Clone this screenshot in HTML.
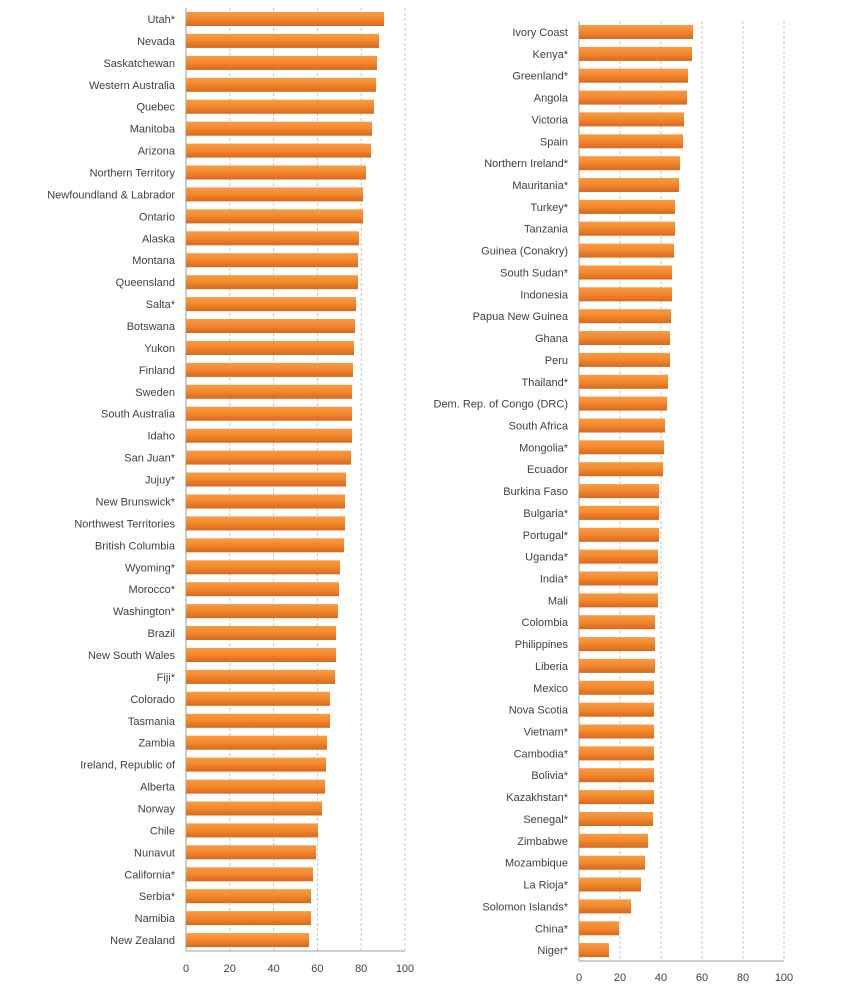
<!DOCTYPE html>
<html><head><meta charset="utf-8"><style>
html,body{margin:0;padding:0;background:#fff}
svg{display:block;font-family:"Liberation Sans",sans-serif;font-size:11px}
svg text{fill:#404040}
text.l{text-anchor:end}
text.t{text-anchor:middle}
</style></head><body>
<svg width="850" height="986" viewBox="0 0 850 986" xmlns="http://www.w3.org/2000/svg">
<defs>
<linearGradient id="g" x1="0" y1="0" x2="0" y2="1">
<stop offset="0" stop-color="#f89a45"/><stop offset="0.45" stop-color="#f48a2e"/><stop offset="1" stop-color="#d8681c"/>
</linearGradient>
</defs>
<g stroke="#c8c8c8" stroke-dasharray="3,2" stroke-width="1">
<line x1="229.8" y1="8" x2="229.8" y2="951"/><line x1="273.6" y1="8" x2="273.6" y2="951"/><line x1="317.4" y1="8" x2="317.4" y2="951"/><line x1="361.2" y1="8" x2="361.2" y2="951"/><line x1="405" y1="8" x2="405" y2="951"/>
<line x1="620" y1="21" x2="620" y2="961"/><line x1="661" y1="21" x2="661" y2="961"/><line x1="702" y1="21" x2="702" y2="961"/><line x1="743" y1="21" x2="743" y2="961"/><line x1="784" y1="21" x2="784" y2="961"/>
</g>
<g stroke="#bfbfbf" stroke-width="1.5">
<line x1="186" y1="8" x2="186" y2="951"/><line x1="186" y1="951" x2="405" y2="951"/>
<line x1="579" y1="21" x2="579" y2="961"/><line x1="579" y1="961" x2="784" y2="961"/>
</g>
<g fill="url(#g)">
<g transform="translate(0,19)"><text class="l" x="175" y="4">Utah*</text><rect x="186" y="-7" width="198" height="14"/></g>
<g transform="translate(0,40.9)"><text class="l" x="175" y="4">Nevada</text><rect x="186" y="-7" width="193" height="14"/></g>
<g transform="translate(0,62.9)"><text class="l" x="175" y="4">Saskatchewan</text><rect x="186" y="-7" width="191" height="14"/></g>
<g transform="translate(0,84.8)"><text class="l" x="175" y="4">Western Australia</text><rect x="186" y="-7" width="190" height="14"/></g>
<g transform="translate(0,106.7)"><text class="l" x="175" y="4">Quebec</text><rect x="186" y="-7" width="188" height="14"/></g>
<g transform="translate(0,128.7)"><text class="l" x="175" y="4">Manitoba</text><rect x="186" y="-7" width="186" height="14"/></g>
<g transform="translate(0,150.6)"><text class="l" x="175" y="4">Arizona</text><rect x="186" y="-7" width="185" height="14"/></g>
<g transform="translate(0,172.5)"><text class="l" x="175" y="4">Northern Territory</text><rect x="186" y="-7" width="180" height="14"/></g>
<g transform="translate(0,194.4)"><text class="l" x="175" y="4">Newfoundland &amp; Labrador</text><rect x="186" y="-7" width="177" height="14"/></g>
<g transform="translate(0,216.4)"><text class="l" x="175" y="4">Ontario</text><rect x="186" y="-7" width="177" height="14"/></g>
<g transform="translate(0,238.3)"><text class="l" x="175" y="4">Alaska</text><rect x="186" y="-7" width="173" height="14"/></g>
<g transform="translate(0,260.2)"><text class="l" x="175" y="4">Montana</text><rect x="186" y="-7" width="172" height="14"/></g>
<g transform="translate(0,282.2)"><text class="l" x="175" y="4">Queensland</text><rect x="186" y="-7" width="172" height="14"/></g>
<g transform="translate(0,304.1)"><text class="l" x="175" y="4">Salta*</text><rect x="186" y="-7" width="170" height="14"/></g>
<g transform="translate(0,326)"><text class="l" x="175" y="4">Botswana</text><rect x="186" y="-7" width="169" height="14"/></g>
<g transform="translate(0,348)"><text class="l" x="175" y="4">Yukon</text><rect x="186" y="-7" width="168" height="14"/></g>
<g transform="translate(0,369.9)"><text class="l" x="175" y="4">Finland</text><rect x="186" y="-7" width="167" height="14"/></g>
<g transform="translate(0,391.8)"><text class="l" x="175" y="4">Sweden</text><rect x="186" y="-7" width="166" height="14"/></g>
<g transform="translate(0,413.7)"><text class="l" x="175" y="4">South Australia</text><rect x="186" y="-7" width="166" height="14"/></g>
<g transform="translate(0,435.7)"><text class="l" x="175" y="4">Idaho</text><rect x="186" y="-7" width="166" height="14"/></g>
<g transform="translate(0,457.6)"><text class="l" x="175" y="4">San Juan*</text><rect x="186" y="-7" width="165" height="14"/></g>
<g transform="translate(0,479.5)"><text class="l" x="175" y="4">Jujuy*</text><rect x="186" y="-7" width="160" height="14"/></g>
<g transform="translate(0,501.5)"><text class="l" x="175" y="4">New Brunswick*</text><rect x="186" y="-7" width="159" height="14"/></g>
<g transform="translate(0,523.4)"><text class="l" x="175" y="4">Northwest Territories</text><rect x="186" y="-7" width="159" height="14"/></g>
<g transform="translate(0,545.3)"><text class="l" x="175" y="4">British Columbia</text><rect x="186" y="-7" width="158" height="14"/></g>
<g transform="translate(0,567.3)"><text class="l" x="175" y="4">Wyoming*</text><rect x="186" y="-7" width="154" height="14"/></g>
<g transform="translate(0,589.2)"><text class="l" x="175" y="4">Morocco*</text><rect x="186" y="-7" width="153" height="14"/></g>
<g transform="translate(0,611.1)"><text class="l" x="175" y="4">Washington*</text><rect x="186" y="-7" width="152" height="14"/></g>
<g transform="translate(0,633)"><text class="l" x="175" y="4">Brazil</text><rect x="186" y="-7" width="150" height="14"/></g>
<g transform="translate(0,655)"><text class="l" x="175" y="4">New South Wales</text><rect x="186" y="-7" width="150" height="14"/></g>
<g transform="translate(0,676.9)"><text class="l" x="175" y="4">Fiji*</text><rect x="186" y="-7" width="149" height="14"/></g>
<g transform="translate(0,698.8)"><text class="l" x="175" y="4">Colorado</text><rect x="186" y="-7" width="144" height="14"/></g>
<g transform="translate(0,720.8)"><text class="l" x="175" y="4">Tasmania</text><rect x="186" y="-7" width="144" height="14"/></g>
<g transform="translate(0,742.7)"><text class="l" x="175" y="4">Zambia</text><rect x="186" y="-7" width="141" height="14"/></g>
<g transform="translate(0,764.6)"><text class="l" x="175" y="4">Ireland, Republic of</text><rect x="186" y="-7" width="140" height="14"/></g>
<g transform="translate(0,786.6)"><text class="l" x="175" y="4">Alberta</text><rect x="186" y="-7" width="139" height="14"/></g>
<g transform="translate(0,808.5)"><text class="l" x="175" y="4">Norway</text><rect x="186" y="-7" width="136" height="14"/></g>
<g transform="translate(0,830.4)"><text class="l" x="175" y="4">Chile</text><rect x="186" y="-7" width="132" height="14"/></g>
<g transform="translate(0,852.3)"><text class="l" x="175" y="4">Nunavut</text><rect x="186" y="-7" width="130" height="14"/></g>
<g transform="translate(0,874.3)"><text class="l" x="175" y="4">California*</text><rect x="186" y="-7" width="127" height="14"/></g>
<g transform="translate(0,896.2)"><text class="l" x="175" y="4">Serbia*</text><rect x="186" y="-7" width="125" height="14"/></g>
<g transform="translate(0,918.1)"><text class="l" x="175" y="4">Namibia</text><rect x="186" y="-7" width="125" height="14"/></g>
<g transform="translate(0,940.1)"><text class="l" x="175" y="4">New Zealand</text><rect x="186" y="-7" width="123" height="14"/></g>

<g transform="translate(0,32)"><text class="l" x="568" y="4">Ivory Coast</text><rect x="579" y="-7" width="114" height="14"/></g>
<g transform="translate(0,53.9)"><text class="l" x="568" y="4">Kenya*</text><rect x="579" y="-7" width="113" height="14"/></g>
<g transform="translate(0,75.7)"><text class="l" x="568" y="4">Greenland*</text><rect x="579" y="-7" width="109" height="14"/></g>
<g transform="translate(0,97.6)"><text class="l" x="568" y="4">Angola</text><rect x="579" y="-7" width="108" height="14"/></g>
<g transform="translate(0,119.4)"><text class="l" x="568" y="4">Victoria</text><rect x="579" y="-7" width="105" height="14"/></g>
<g transform="translate(0,141.3)"><text class="l" x="568" y="4">Spain</text><rect x="579" y="-7" width="104" height="14"/></g>
<g transform="translate(0,163.2)"><text class="l" x="568" y="4">Northern Ireland*</text><rect x="579" y="-7" width="101" height="14"/></g>
<g transform="translate(0,185)"><text class="l" x="568" y="4">Mauritania*</text><rect x="579" y="-7" width="100" height="14"/></g>
<g transform="translate(0,206.9)"><text class="l" x="568" y="4">Turkey*</text><rect x="579" y="-7" width="96" height="14"/></g>
<g transform="translate(0,228.7)"><text class="l" x="568" y="4">Tanzania</text><rect x="579" y="-7" width="96" height="14"/></g>
<g transform="translate(0,250.6)"><text class="l" x="568" y="4">Guinea (Conakry)</text><rect x="579" y="-7" width="95" height="14"/></g>
<g transform="translate(0,272.5)"><text class="l" x="568" y="4">South Sudan*</text><rect x="579" y="-7" width="93" height="14"/></g>
<g transform="translate(0,294.3)"><text class="l" x="568" y="4">Indonesia</text><rect x="579" y="-7" width="93" height="14"/></g>
<g transform="translate(0,316.2)"><text class="l" x="568" y="4">Papua New Guinea</text><rect x="579" y="-7" width="92" height="14"/></g>
<g transform="translate(0,338)"><text class="l" x="568" y="4">Ghana</text><rect x="579" y="-7" width="91" height="14"/></g>
<g transform="translate(0,359.9)"><text class="l" x="568" y="4">Peru</text><rect x="579" y="-7" width="91" height="14"/></g>
<g transform="translate(0,381.8)"><text class="l" x="568" y="4">Thailand*</text><rect x="579" y="-7" width="89" height="14"/></g>
<g transform="translate(0,403.6)"><text class="l" x="568" y="4">Dem. Rep. of Congo (DRC)</text><rect x="579" y="-7" width="88" height="14"/></g>
<g transform="translate(0,425.5)"><text class="l" x="568" y="4">South Africa</text><rect x="579" y="-7" width="86" height="14"/></g>
<g transform="translate(0,447.3)"><text class="l" x="568" y="4">Mongolia*</text><rect x="579" y="-7" width="85" height="14"/></g>
<g transform="translate(0,469.2)"><text class="l" x="568" y="4">Ecuador</text><rect x="579" y="-7" width="84" height="14"/></g>
<g transform="translate(0,491.1)"><text class="l" x="568" y="4">Burkina Faso</text><rect x="579" y="-7" width="80" height="14"/></g>
<g transform="translate(0,512.9)"><text class="l" x="568" y="4">Bulgaria*</text><rect x="579" y="-7" width="80" height="14"/></g>
<g transform="translate(0,534.8)"><text class="l" x="568" y="4">Portugal*</text><rect x="579" y="-7" width="80" height="14"/></g>
<g transform="translate(0,556.6)"><text class="l" x="568" y="4">Uganda*</text><rect x="579" y="-7" width="79" height="14"/></g>
<g transform="translate(0,578.5)"><text class="l" x="568" y="4">India*</text><rect x="579" y="-7" width="79" height="14"/></g>
<g transform="translate(0,600.4)"><text class="l" x="568" y="4">Mali</text><rect x="579" y="-7" width="79" height="14"/></g>
<g transform="translate(0,622.2)"><text class="l" x="568" y="4">Colombia</text><rect x="579" y="-7" width="76" height="14"/></g>
<g transform="translate(0,644.1)"><text class="l" x="568" y="4">Philippines</text><rect x="579" y="-7" width="76" height="14"/></g>
<g transform="translate(0,665.9)"><text class="l" x="568" y="4">Liberia</text><rect x="579" y="-7" width="76" height="14"/></g>
<g transform="translate(0,687.8)"><text class="l" x="568" y="4">Mexico</text><rect x="579" y="-7" width="75" height="14"/></g>
<g transform="translate(0,709.7)"><text class="l" x="568" y="4">Nova Scotia</text><rect x="579" y="-7" width="75" height="14"/></g>
<g transform="translate(0,731.5)"><text class="l" x="568" y="4">Vietnam*</text><rect x="579" y="-7" width="75" height="14"/></g>
<g transform="translate(0,753.4)"><text class="l" x="568" y="4">Cambodia*</text><rect x="579" y="-7" width="75" height="14"/></g>
<g transform="translate(0,775.2)"><text class="l" x="568" y="4">Bolivia*</text><rect x="579" y="-7" width="75" height="14"/></g>
<g transform="translate(0,797.1)"><text class="l" x="568" y="4">Kazakhstan*</text><rect x="579" y="-7" width="75" height="14"/></g>
<g transform="translate(0,819)"><text class="l" x="568" y="4">Senegal*</text><rect x="579" y="-7" width="74" height="14"/></g>
<g transform="translate(0,840.8)"><text class="l" x="568" y="4">Zimbabwe</text><rect x="579" y="-7" width="69" height="14"/></g>
<g transform="translate(0,862.7)"><text class="l" x="568" y="4">Mozambique</text><rect x="579" y="-7" width="66" height="14"/></g>
<g transform="translate(0,884.5)"><text class="l" x="568" y="4">La Rioja*</text><rect x="579" y="-7" width="62" height="14"/></g>
<g transform="translate(0,906.4)"><text class="l" x="568" y="4">Solomon Islands*</text><rect x="579" y="-7" width="52" height="14"/></g>
<g transform="translate(0,928.3)"><text class="l" x="568" y="4">China*</text><rect x="579" y="-7" width="40" height="14"/></g>
<g transform="translate(0,950.1)"><text class="l" x="568" y="4">Niger*</text><rect x="579" y="-7" width="30" height="14"/></g>
</g>
<g>
<text class="t" x="186" y="972">0</text><text class="t" x="229.8" y="972">20</text><text class="t" x="273.6" y="972">40</text><text class="t" x="317.4" y="972">60</text><text class="t" x="361.2" y="972">80</text><text class="t" x="405" y="972">100</text>
<text class="t" x="579" y="981">0</text><text class="t" x="620" y="981">20</text><text class="t" x="661" y="981">40</text><text class="t" x="702" y="981">60</text><text class="t" x="743" y="981">80</text><text class="t" x="784" y="981">100</text>
</g>
</svg>
</body></html>
